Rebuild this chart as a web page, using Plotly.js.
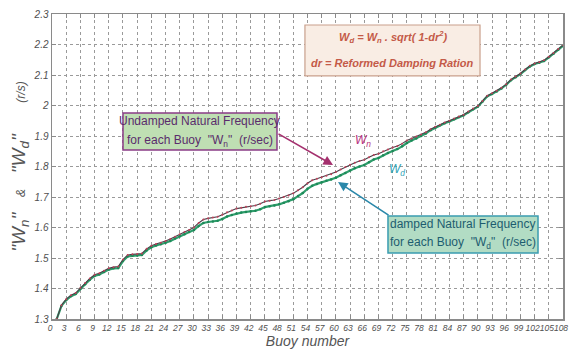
<!DOCTYPE html>
<html>
<head>
<meta charset="utf-8">
<script src="https://cdn.plot.ly/plotly-3.0.1.min.js"></script>
<style>html,body{margin:0;padding:0;background:#fff;}#chart{width:569px;height:356px;}</style>
</head>
<body>
<div id="chart"></div>
<script>
// Buoy numbers
const buoys = [1,2,3,4,5,6,7,8,9,10,11,12,13,14,15,16,17,18,19,20,21,22,23,24,25,26,27,28,29,30,31,32,33,34,35,36,37,38,39,40,41,42,43,44,45,46,47,48,49,50,51,52,53,54,55,56,57,58,59,60,61,62,63,64,65,66,67,68,69,70,71,72,73,74,75,76,77,78,79,80,81,82,83,84,85,86,87,88,89,90,91,92,93,94,95,96,97,98,99,100,101,102,103,104,105,106,107,108];
// Undamped natural frequency Wn (r/s)
const wn = [1.300,1.345,1.365,1.378,1.385,1.402,1.418,1.433,1.445,1.450,1.458,1.466,1.470,1.472,1.495,1.510,1.512,1.513,1.515,1.530,1.540,1.546,1.550,1.556,1.562,1.570,1.578,1.585,1.592,1.600,1.615,1.626,1.630,1.633,1.635,1.642,1.650,1.656,1.662,1.665,1.668,1.670,1.672,1.678,1.685,1.688,1.690,1.695,1.700,1.705,1.712,1.722,1.732,1.745,1.755,1.760,1.765,1.770,1.775,1.782,1.790,1.798,1.806,1.812,1.818,1.822,1.830,1.838,1.842,1.850,1.856,1.862,1.867,1.875,1.885,1.892,1.898,1.905,1.912,1.922,1.930,1.937,1.944,1.950,1.957,1.964,1.970,1.980,1.990,1.998,2.015,2.032,2.040,2.048,2.058,2.070,2.085,2.095,2.105,2.118,2.130,2.138,2.142,2.148,2.160,2.172,2.185,2.198];
// Damped natural frequency Wd (r/s)
const wd = [1.300,1.343,1.362,1.375,1.382,1.399,1.414,1.429,1.441,1.446,1.454,1.462,1.466,1.467,1.490,1.505,1.507,1.508,1.510,1.525,1.535,1.541,1.545,1.550,1.556,1.564,1.571,1.578,1.585,1.592,1.605,1.615,1.618,1.620,1.622,1.628,1.636,1.641,1.646,1.649,1.651,1.653,1.655,1.660,1.667,1.670,1.672,1.676,1.681,1.686,1.693,1.703,1.713,1.727,1.737,1.743,1.748,1.753,1.757,1.763,1.771,1.779,1.787,1.794,1.800,1.805,1.814,1.823,1.828,1.837,1.844,1.851,1.857,1.866,1.877,1.885,1.892,1.900,1.908,1.919,1.927,1.935,1.942,1.948,1.955,1.962,1.968,1.978,1.988,1.996,2.013,2.030,2.038,2.046,2.056,2.068,2.083,2.093,2.103,2.116,2.128,2.136,2.140,2.146,2.158,2.170,2.183,2.196];
// Tick values
const xTicks = [0,3,6,9,12,15,18,21,24,27,30,33,36,39,42,45,48,51,54,57,60,63,66,69,72,75,78,81,84,87,90,93,96,99,102,105,108];
const yTicks = [1.3,1.4,1.5,1.6,1.7,1.8,1.9,2.0,2.1,2.2,2.3];
const yTickText = ['1.3','1.4','1.5','1.6','1.7','1.8','1.9','2','2.1','2.2','2.3'];

const FONT = 'Liberation Sans, Arial, sans-serif';

const traces = [
  {x: buoys, y: wd, type: 'scatter', mode: 'lines+markers', name: 'Wd',
   line: {color: '#2f9d6c', width: 2.2}, marker: {color: '#1c8a58', size: 2.5}},
  {x: buoys, y: wn, type: 'scatter', mode: 'lines+markers', name: 'Wn',
   line: {color: '#4a4048', width: 1.1}, marker: {color: '#c0405a', size: 2}}
];

const xTickFont = {family: FONT, size: 8.5, color: '#505050', style: 'italic'};
const yTickFont = {family: FONT, size: 10, color: '#505050', style: 'italic'};

function lbl(x, y, text, size, color) {
  return {xref: 'paper', yref: 'paper', x: x, y: y, xanchor: 'center', yanchor: 'middle',
          showarrow: false, text: text, font: {family: FONT, size: size, color: color}};
}

const layout = {
  width: 569, height: 356,
  margin: {l: 52, r: 6, t: 14, b: 37},
  paper_bgcolor: '#ffffff', plot_bgcolor: '#ffffff',
  showlegend: false,
  xaxis: {
    range: [0, 108], tickmode: 'array', tickvals: xTicks, ticktext: xTicks.map(String),
    tickangle: 0, tickfont: xTickFont, ticklabeloverflow: 'allow', ticklabelshift: -2,
    showgrid: true, gridcolor: '#9a9a9a', griddash: 'dot', gridwidth: 1,
    showline: true, linecolor: '#8a8a8a', linewidth: 1.5, mirror: 'ticks',
    ticks: 'inside', ticklen: 4, tickcolor: '#8a8a8a', zeroline: false,
    title: {text: 'Buoy number', font: {family: FONT, size: 14, color: '#555', style: 'italic'}, standoff: 4}
  },
  yaxis: {
    range: [1.3, 2.3], tickmode: 'array', tickvals: yTicks, ticktext: yTickText,
    tickfont: yTickFont, showgrid: true, gridcolor: '#9a9a9a', griddash: 'dot', gridwidth: 1,
    showline: true, linecolor: '#8a8a8a', linewidth: 1.5, mirror: 'ticks',
    ticks: 'inside', ticklen: 4, tickcolor: '#8a8a8a', zeroline: false,
    title: {text: '"W<sub>n</sub>"   <span style="font-size:12px">&amp;</span>   "W<sub>d</sub>"      <span style="font-size:12px">(r/s)</span>',
            font: {family: FONT, size: 19, color: '#555', style: 'italic'}, standoff: 3}
  },
  shapes: [
    {type: 'rect', xref: 'paper', yref: 'paper', x0: 0.495, x1: 0.8376, y0: 0.797, y1: 0.964,
     fillcolor: '#f9ede4', line: {color: '#c9a08c', width: 1.2}},
    {type: 'rect', xref: 'paper', yref: 'paper', x0: 0.1389, x1: 0.4403, y0: 0.554, y1: 0.6754,
     fillcolor: '#bfdfb3', line: {color: '#8a3c86', width: 1.5}},
    {type: 'rect', xref: 'paper', yref: 'paper', x0: 0.6575, x1: 0.9511, y0: 0.2164, y1: 0.3377,
     fillcolor: '#b2dcc4', line: {color: '#3a9cb0', width: 1.5}}
  ],
  annotations: [
    lbl(0.6673, 0.9246, '<b><i>W<sub>d</sub> = W<sub>n</sub> . sqrt( 1-dr<sup>2</sup>)</i></b>', 11, '#c45a48'),
    lbl(0.6673, 0.8393, '<b><i>dr = Reformed Damping Ration</i></b>', 11, '#c45a48'),
    lbl(0.2896, 0.6492, 'Undamped Natural Frequency', 12, '#5a2c6c'),
    lbl(0.2896, 0.5836, 'for each Buoy  "W<sub>n</sub>"  (r/sec)', 12, '#5a2c6c'),
    lbl(0.8043, 0.3115, 'damped Natural Frequency', 12, '#1d5c70'),
    lbl(0.8043, 0.2492, 'for each Buoy  "W<sub>d</sub>"  (r/sec)', 12, '#1d5c70'),
    {x: 59.39, y: 1.805, ax: -56, ay: -32, text: '', showarrow: true,
     arrowhead: 2, arrowsize: 1.2, arrowwidth: 1.6, arrowcolor: '#a4306e'},
    {x: 60.45, y: 1.749, ax: 52, ay: 34, text: '', showarrow: true,
     arrowhead: 2, arrowsize: 1.2, arrowwidth: 1.6, arrowcolor: '#2a88aa'},
    {x: 65.7, y: 1.884, xanchor: 'center', yanchor: 'middle', showarrow: false, text: '<i>W<sub>n</sub></i>',
     font: {family: FONT, size: 12, color: '#b8307e'}},
    {x: 72.9, y: 1.789, xanchor: 'center', yanchor: 'middle', showarrow: false, text: '<i>W<sub>d</sub></i>',
     font: {family: FONT, size: 12, color: '#30a4b8'}}
  ]
};

Plotly.newPlot('chart', traces, layout, {staticPlot: true, displayModeBar: false});
</script>
</body>
</html>
